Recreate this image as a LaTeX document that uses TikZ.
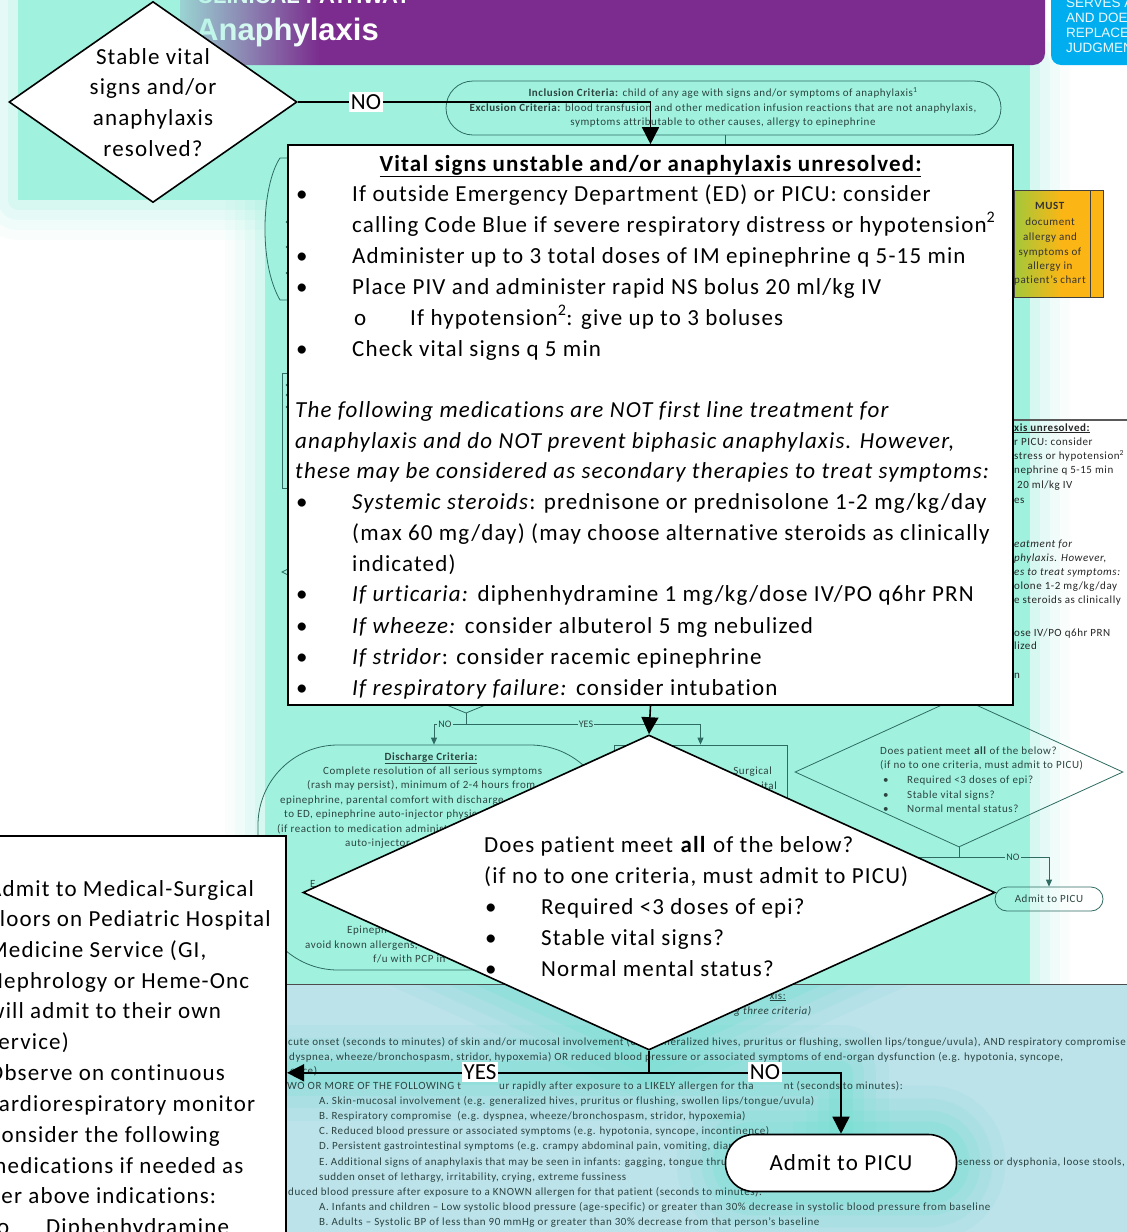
\documentclass[tikz,border=0pt]{standalone}
\usepackage{fontspec}
\setmainfont{Carlito}
\newfontfamily\spaced[LetterSpace=5, Ligatures=NoCommon]{Carlito}
\newfontfamily\headfont{Liberation Sans}
\usetikzlibrary{arrows.meta,shapes.geometric,fadings}
\pgfdeclarelayer{back}
\pgfsetlayers{back,main}

\definecolor{mint}{HTML}{A0F2DF}
\definecolor{mintdeep}{HTML}{6EDFD0}
\definecolor{paleblue}{HTML}{BCE2EA}
\definecolor{headpurple}{HTML}{7B2C8E}
\definecolor{noteblue}{HTML}{00AEEF}
\definecolor{flowteal}{HTML}{2E6B62}
\definecolor{fainttext}{HTML}{2C4440}
\definecolor{mustgreen}{HTML}{A3C83A}
\definecolor{mustorange}{HTML}{FBB615}

\tikzfading[name=headfade, left color=transparent!15, right color=transparent!100]

\tikzset{
  fgshape/.style={draw=black, line width=1.6pt, fill=white, inner sep=0pt},
  bigtext/.style={font=\spaced\fontsize{23}{28}\selectfont, inner sep=0pt},
  bigL/.style={bigtext, anchor=base west},
  bigC/.style={bigtext, anchor=base},
  lbl/.style={fill=white, inner sep=2pt, font=\fontsize{23}{28}\selectfont},
  flow/.style={draw=black, line width=1.6pt},
  flowarrow/.style={flow, -{Triangle[width=17pt,length=17pt]}},
  tinytext/.style={font=\spaced\fontsize{11}{12}\selectfont, text=fainttext, inner sep=0pt},
  tinyL/.style={tinytext, anchor=base west},
  tinyR/.style={tinytext, anchor=base east},
  tinyC/.style={tinytext, anchor=base},
  tinylbl/.style={fill=mint, inner sep=1pt, font=\fontsize{10}{12}\selectfont, text=fainttext},
  thinline/.style={draw=flowteal, line width=0.8pt},
  thinarrow/.style={thinline, -{Triangle[width=6pt,length=7pt]}},
}

% soft-edged mint patch: x1, y1, x2, y2
\newcommand\mintpatch[4]{%
  \foreach \gw/\go in {80/0.06,60/0.09,40/0.13,20/0.2}{%
    \draw[mint, line width=\gw pt, opacity=\go, line join=round] (#1,#2) rectangle (#3,#4);}%
  \fill[mint] (#1,#2) rectangle (#3,#4);}

\begin{document}
\begin{tikzpicture}[x=1pt,y=-1pt]
\useasboundingbox (0,0) rectangle (1127,1232);
\clip (0,0) rectangle (1127,1232);

% ================= foreground flow =================
% first decision
\node[fgshape, diamond, minimum width=288pt, minimum height=201pt] (d1) at (153,102) {};
\foreach \yy/\tx [count=\k] in {64/{Stable vital},94/{signs and/or},125/{anaphylaxis},156/{resolved?}}
  \node[bigC] (d1t\k) at (153,\yy) {\tx};

% unstable / unresolved management box
\node[fgshape, rectangle, minimum width=725pt, minimum height=560pt] (vsbox) at (650.5,425) {};
\node[bigC] (vstitle) at (650.5,171) {\textbf{\underline{Vital signs unstable and/or anaphylaxis unresolved:}}};
\foreach \xx/\yy/\tx [count=\k] in {
  352/201/{If outside Emergency Department (ED) or PICU: consider},
  352/232/{calling Code Blue if severe respiratory distress or hypotension\textsuperscript{2}},
  352/263/{Administer up to 3 total doses of IM epinephrine q 5-15 min},
  352/294/{Place PIV and administer rapid NS bolus 20 ml/kg IV},
  410/325/{If hypotension\textsuperscript{2}: give up to 3 boluses},
  352/356/{Check vital signs q 5 min},
  295/417/{\textit{The following medications are NOT first line treatment for}},
  295/448/{\textit{anaphylaxis and do NOT prevent biphasic anaphylaxis. However,}},
  295/478/{\textit{these may be considered as secondary therapies to treat symptoms:}},
  352/509/{\textit{Systemic steroids}: prednisone or prednisolone 1-2 mg/kg/day},
  352/540/{(max 60 mg/day) (may choose alternative steroids as clinically},
  352/571/{indicated)},
  352/601/{\textit{If urticaria:} diphenhydramine 1 mg/kg/dose IV/PO q6hr PRN},
  352/633/{\textit{If wheeze:} consider albuterol 5 mg nebulized},
  352/664/{\textit{If stridor}: consider racemic epinephrine},
  352/695/{\textit{If respiratory failure:} consider intubation}}
  \node[bigL] (vsl\k) at (\xx,\yy) {\tx};
\foreach \yy [count=\k] in {201,263,294,356,509,601,633,664,695}
  \node[bigL] (vsb\k) at (296,\yy) {\textbullet};
\node[bigL] (vssub) at (354,325) {o};

\draw[flowarrow] (d1.east) -| (vsbox.north);
\node[lbl] (no1) at (366,102) {NO};

% admission decision
\node[fgshape, diamond, minimum width=692pt, minimum height=315pt] (d2) at (649,892.5) {};
\draw[flowarrow] (vsbox.south) -- (d2.north);
\foreach \xx/\yy/\tx [count=\k] in {
  484/852/{Does patient meet \textbf{all} of the below?},
  484/883/{(if no to one criteria, must admit to PICU)},
  541/914/{Required <3 doses of epi?},
  541/945/{Stable vital signs?},
  541/976/{Normal mental status?}}
  \node[bigL] (d2t\k) at (\xx,\yy) {\tx};
\foreach \yy [count=\k] in {914,945,976}
  \node[bigL] (d2b\k) at (485,\yy) {\textbullet};

% floor admission box
\node[fgshape, rectangle, minimum width=320pt, minimum height=430pt, anchor=north east] (mfbox) at (287,835) {};
\foreach \xx/\yy/\tx [count=\k] in {
  -12/896/{Admit to Medical-Surgical},
  -12/926/{Floors on Pediatric Hospital},
  -12/957/{Medicine Service (GI,},
  -12/988/{Nephrology or Heme-Onc},
  -12/1018/{will admit to their own},
  -12/1049/{service)},
  -12/1080/{Observe on continuous},
  -12/1111/{cardiorespiratory monitor},
  -12/1142/{Consider the following},
  -12/1173/{medications if needed as},
  -12/1203/{per above indications:},
  -3/1234/{o},
  46/1234/{Diphenhydramine}}
  \node[bigL] (mft\k) at (\xx,\yy) {\tx};

% PICU admission
\node[fgshape, rectangle, rounded corners=28pt, minimum width=231pt, minimum height=57pt,
      font=\spaced\fontsize{23}{28}\selectfont] (picu) at (841,1163) {Admit to PICU};

\draw[flow] (d2.south) -- ++(0,22) coordinate (split);
\draw[flowarrow] (split) -- (split -| mfbox.east);
\draw[flowarrow] (split) -| (picu.north);
\node[lbl] (yes2) at (480,1072) {YES};
\node[lbl] (no2) at (765,1072) {NO};

% ================= page behind the flow =================
\begin{pgfonlayer}{back}
\fill[white] (0,0) rectangle (1127,1232);
\mintpatch{18}{-30}{300}{200}
\mintpatch{265}{65}{1030}{985}

% diagnostic criteria panel
\fill[paleblue] (287,984) rectangle (1140,1250);
\draw[black!70, line width=1pt] (287,984) -- (1140,984);
\begin{scope}
  \clip (287,985) rectangle (1140,1250);
  \foreach \gw/\go in {96/0.10,70/0.13,46/0.18,24/0.26}{
    \draw[mintdeep, line width=\gw pt, opacity=\go, line join=round, line cap=round]
      (d2.north) -- (d2.east) -- (d2.south) -- (d2.west) -- cycle;
    \draw[mintdeep, line width=\gw pt, opacity=\go, line join=round, line cap=round]
      (split -| mfbox.east) -- (split) -| (picu.north);
    \draw[mintdeep, line width=\gw pt, opacity=\go, rounded corners=28pt]
      (picu.north west) rectangle (picu.south east);
  }
\end{scope}
\node[tinyR] (dgh) at (786,999) {\underline{xis:}};
\node[tinyR] (dgs) at (812,1014) {\textit{g three criteria)}};
\foreach \xx/\yy/\tx [count=\k] in {
  288/1045/{cute onset (seconds to minutes) of skin and/or mucosal involvement (e.g. generalized hives, pruritus or flushing, swollen lips/tongue/uvula), AND respiratory compromise},
  289/1060/{dyspnea, wheeze/bronchospasm, stridor, hypoxemia) OR reduced blood pressure or associated symptoms of end-organ dysfunction (e.g. hypotonia, syncope,},
  290/1074/{ence)},
  287/1089/{WO OR MORE OF THE FOLLOWING t},
  499/1089/{ur rapidly after exposure to a LIKELY allergen for tha},
  319/1104/{A. Skin-mucosal involvement (e.g. generalized hives, pruritus or flushing, swollen lips/tongue/uvula)},
  319/1119/{B. Respiratory compromise\ \ (e.g. dyspnea, wheeze/bronchospasm, stridor, hypoxemia)},
  319/1134/{C. Reduced blood pressure or associated symptoms (e.g. hypotonia, syncope, incontinence)},
  319/1149/{D. Persistent gastrointestinal symptoms (e.g. crampy abdominal pain, vomiting, diarrhea)},
  319/1165/{E. Additional signs of anaphylaxis that may be seen in infants: gagging, tongue thrusting,},
  319/1180/{sudden onset of lethargy, irritability, crying, extreme fussiness},
  288/1195/{duced blood pressure after exposure to a KNOWN allergen for that patient (seconds to minutes):},
  319/1210/{A. Infants and children – Low systolic blood pressure (age-specific) or greater than 30\% decrease in systolic blood pressure from baseline},
  319/1225/{B. Adults – Systolic BP of less than 90 mmHg or greater than 30\% decrease from that person’s baseline}}
  \node[tinyL] (dg\k) at (\xx,\yy) {\tx};
\node[tinyR] (dg2c) at (903,1089) {nt (seconds to minutes):};
\node[tinyL] (dgE) at (958,1165) {seness or dysphonia, loose stools,};

% header band
\fill[headpurple, rounded corners=12pt] (180,-30) rectangle (1045,65);
\node[anchor=base west, inner sep=0pt, text=white,
      font=\headfont\bfseries\fontsize{22}{22}\selectfont] (kicker) at (197,3) {CLINICAL PATHWAY};
\node[anchor=base west, inner sep=0pt, text=white,
      font=\headfont\bfseries\fontsize{31}{31}\selectfont] (title) at (196,40) {Anaphylaxis};
\fill[mint, path fading=headfade] (180,0) rectangle (320,66);

% disclaimer tab
\fill[noteblue, rounded corners=10pt] (1051,-30) rectangle (1170,65);
\foreach \yy/\tx [count=\k] in {7/{SERVES AS A},22/{AND DOES NOT},37/{REPLACE},52/{JUDGMENT}}
  \node[anchor=base west, inner sep=0pt, text=white!92!noteblue,
        font=\headfont\fontsize{13.5}{14}\selectfont] (disc\k) at (1066,\yy) {\tx};

% inclusion / exclusion criteria
\node[thinline, rectangle, rounded corners=27pt, minimum width=555pt, minimum height=54pt] (incl) at (723.5,108) {};
\node[tinyC] (inc1) at (723,96) {\textbf{Inclusion Criteria:} child of any age with signs and/or symptoms of anaphylaxis\textsuperscript{1}};
\node[tinyC] (inc2) at (723,111) {\textbf{Exclusion Criteria:} blood transfusion and other medication infusion reactions that are not anaphylaxis,};
\node[tinyC] (inc3) at (723,125) {symptoms attributable to other causes, allergy to epinephrine};
\draw[thinline] (incl.south -| 725,0) -- (725,150);

% allergy documentation reminder
\fill[mustorange] (1014,190) rectangle (1103,297);
\shade[left color=mustgreen, right color=mustorange] (1014,190) rectangle (1062,297);
\draw[black!75, line width=0.9pt] (1014,190) rectangle (1103,297);
\draw[black!75, line width=0.9pt] (1090,190) -- (1090,297);
\foreach \yy/\tx [count=\k] in {209/{\textbf{MUST}},225/{document},240/{allergy and},255/{symptoms of},269/{allergy in},283/{patient’s chart}}
  \node[tinyC, text=black!80] (must\k) at (1050,\yy) {\tx};

% small-scale copy of the management box, right edge
\draw[black!65, line width=1.2pt] (1000,420) -- (1140,420);
\foreach \xx/\yy/\tx [count=\k] in {
  1014/431/{\textbf{\underline{xis unresolved:}}},
  1014/445/{r PICU: consider},
  1014/459/{stress or hypotension\textsuperscript{2}},
  1014/473/{nephrine q 5-15 min},
  1017/488/{20 ml/kg IV},
  1014/503/{es},
  1014/547/{\textit{eatment for}},
  1014/561/{\textit{phylaxis. However,}},
  1014/575/{\textit{es to treat symptoms:}},
  1014/589/{olone 1-2 mg/kg/day},
  1014/603/{e steroids as clinically},
  1014/636/{ose IV/PO q6hr PRN},
  1014/649/{lized},
  1014/678/{n}}
  \node[tinyL, text=black!85] (sm\k) at (\xx,\yy) {\tx};

% traces of the small chart along the big box's left edge
\draw[thinline] (292,158) -- (280,158) .. controls (262,185) and (258,262) .. (280,300) -- (292,300);
\foreach \yy [count=\k] in {222,247,273,385,395,407}
  \fill[flowteal] (287,\yy) circle (1.4pt);
\draw[thinline] (292,373) -- (282,373) -- (282,488) -- (292,488);
\draw[thinline] (292,567) -- (282,572) -- (292,577);

% small-scale branch below the management box
\draw[thinline] (420,694) -- (466,713) -- (512,694);
\node[thinline, rectangle, rounded corners=80pt, minimum width=352pt, minimum height=225pt] (dis) at (434,857.5) {};
\node[thinline, rectangle, minimum width=173pt, minimum height=115pt] (msrect) at (700.5,802.5) {};
\draw[thinline] (466,713) -- (466,724) coordinate (s1split);
\draw[thinarrow] (s1split) -| (dis.north);
\draw[thinarrow] (s1split) -| (msrect.north);
\node[tinylbl] (sno1) at (445,724) {NO};
\node[tinylbl] (syes1) at (586,724) {YES};

\node[tinyC] (dct) at (431,760) {\textbf{\underline{Discharge Criteria:}}};
\foreach \xx/\yy/\tx [count=\k] in {
  323/774/{Complete resolution of all serious symptoms},
  307/788/{(rash may persist), minimum of 2-4 hours from},
  280/803/{epinephrine, parental comfort with discharge},
  284/817/{to ED, epinephrine auto-injector physic},
  277/832/{(if reaction to medication administ},
  345/846/{auto-injector},
  310/887/{E},
  347/933/{Epineph},
  305/948/{avoid known allergens,},
  373/962/{f/u with PCP in}}
  \node[tinyL] (dc\k) at (\xx,\yy) {\tx};
\node[tinyR] (ms1) at (772,774) {Surgical};
\node[tinyR] (ms2) at (777,789) {ital};

% small-scale admission decision
\node[thinline, diamond, minimum width=328pt, minimum height=150pt, inner sep=0pt] (d2s) at (959,772) {};
\node[tinyL] (d2s1) at (880,754) {Does patient meet \textbf{all} of the below?};
\node[tinyL] (d2s2) at (880,768) {(if no to one criteria, must admit to PICU)};
\foreach \yy/\tx [count=\k] in {783/{Required <3 doses of epi?},798/{Stable vital signs?},812/{Normal mental status?}}{
  \node[tinyL] (d2sb\k) at (883,\yy) {\textbullet};
  \node[tinyL] (d2sl\k) at (907,\yy) {\tx};}
\node[thinline, rectangle, rounded corners=12pt, minimum width=108pt, minimum height=24pt,
      font=\spaced\fontsize{11}{12}\selectfont, text=fainttext] (pics) at (1049,899) {Admit to PICU};
\draw[thinline] (d2s.south) -- ++(0,10) coordinate (s2split);
\draw[thinline] (s2split) -- ++(-70,0);
\draw[thinarrow] (s2split) -| (pics.north);
\node[tinylbl] (sno2) at (1013,857) {NO};
\end{pgfonlayer}
\end{tikzpicture}
\end{document}
